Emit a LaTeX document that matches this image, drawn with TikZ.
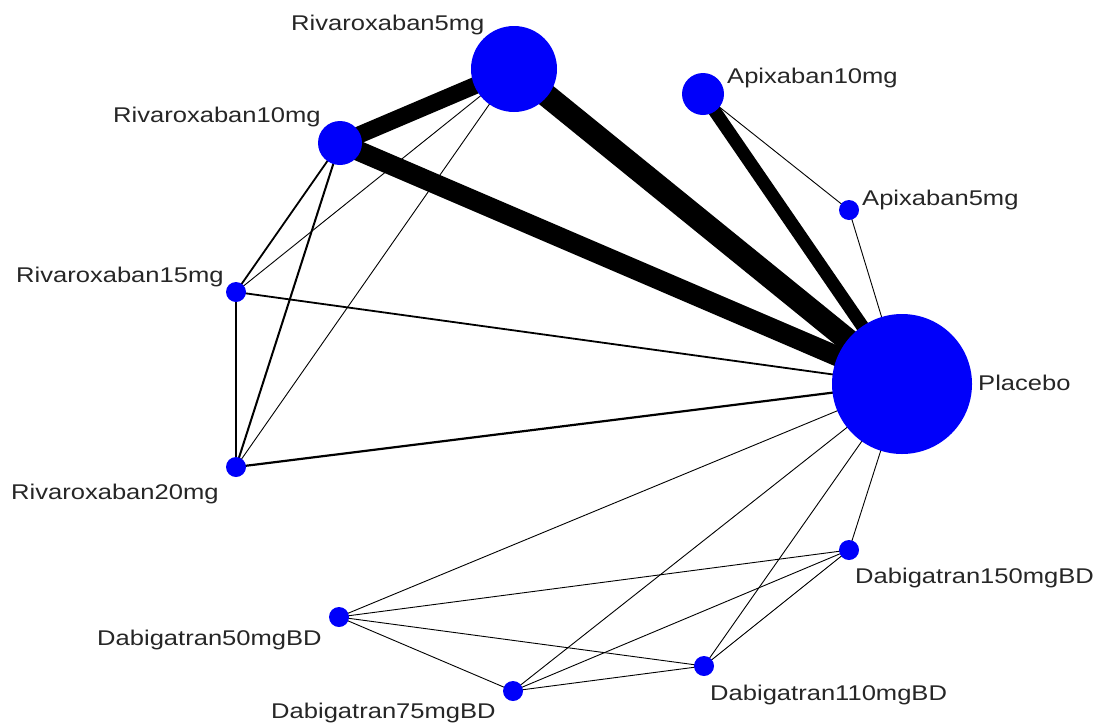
\documentclass[tikz,border=0pt]{standalone}
\usepackage{fontspec}
\newfontfamily\labfont{Liberation Sans}[FakeStretch=1.2]
\usetikzlibrary{backgrounds}
\definecolor{nodeblue}{RGB}{0,0,250}
\tikzset{
  dot/.style={circle, fill=nodeblue, draw=none, inner sep=0pt, minimum size=#1},
  lab/.style={anchor=base west, inner sep=0pt, font=\labfont\fontsize{21.3}{25}\selectfont, text=black!85},
  thin edge/.style={line width=0.9pt, draw=black},
  mid edge/.style={line width=2pt, draw=black},
}
\begin{document}
\begin{tikzpicture}[x=1pt, y=-1pt]
\useasboundingbox (0,0) rectangle (1102,726);
% nodes
\node[dot=86] (r5) at (514,69) {};
\node[dot=42] (a10) at (703,94) {};
\node[dot=44] (r10) at (340,143) {};
\node[dot=20] (a5) at (849,210) {};
\node[dot=20] (r15) at (236,292) {};
\node[dot=140] (pl) at (902,384) {};
\node[dot=20] (r20) at (236,467) {};
\node[dot=20] (d150) at (849,550) {};
\node[dot=20] (d50) at (339,617) {};
\node[dot=20] (d110) at (704,666) {};
\node[dot=20] (d75) at (513,691) {};
% labels
\node[lab] (lr5) at (291,30) {Rivaroxaban5mg};
\node[lab] (lr10) at (113,122) {Rivaroxaban10mg};
\node[lab] (la10) at (727,83) {Apixaban10mg};
\node[lab] (la5) at (862,205) {Apixaban5mg};
\node[lab] (lpl) at (978,390) {Placebo};
\node[lab] (lr15) at (16,282) {Rivaroxaban15mg};
\node[lab] (lr20) at (11,499) {Rivaroxaban20mg};
\node[lab] (ld50) at (97,645) {Dabigatran50mgBD};
\node[lab] (ld75) at (271,718) {Dabigatran75mgBD};
\node[lab] (ld110) at (710,700) {Dabigatran110mgBD};
\node[lab] (ld150) at (855,583) {Dabigatran150mgBD};
% edges
\begin{scope}[on background layer]
\draw[line width=17pt] (r5.center) -- (r10.center);
\draw[line width=23pt] (r5.center) -- (pl.center);
\draw[line width=20pt] (r10.center) -- (pl.center);
\draw[line width=13pt] (a10.center) -- (pl.center);
\draw[thin edge] (a10.center) -- (a5.center);
\draw[thin edge] (a5.center) -- (pl.center);
\draw[thin edge] (r5.center) -- (r15.center);
\draw[thin edge] (r5.center) -- (r20.center);
\draw[mid edge, line width=1.8pt] (r10.center) -- (r15.center);
\draw[mid edge] (r10.center) -- (r20.center);
\draw[line width=1.2pt] (r15.center) -- (r20.center);
\draw[mid edge, line width=1.8pt] (r15.center) -- (pl.center);
\draw[mid edge, line width=2.2pt] (r20.center) -- (pl.center);
\draw[thin edge] (d50.center) -- (pl.center);
\draw[thin edge] (d50.center) -- (d150.center);
\draw[thin edge] (d50.center) -- (d110.center);
\draw[thin edge] (d50.center) -- (d75.center);
\draw[thin edge] (d75.center) -- (pl.center);
\draw[thin edge] (d75.center) -- (d150.center);
\draw[thin edge] (d75.center) -- (d110.center);
\draw[thin edge] (d110.center) -- (pl.center);
\draw[thin edge] (d110.center) -- (d150.center);
\draw[thin edge] (d150.center) -- (pl.center);
\end{scope}
\end{tikzpicture}
\end{document}
